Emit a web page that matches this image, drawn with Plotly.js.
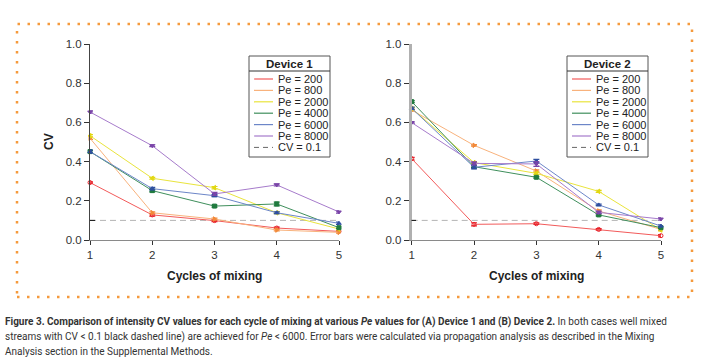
<!DOCTYPE html>
<html><head><meta charset="utf-8">
<script src="https://cdn.plot.ly/plotly-3.0.1.min.js"></script>
<style>html,body{margin:0;padding:0;background:#fff}#chart{width:709px;height:363px}</style>
</head><body><div id="chart"></div>
<script>
// ---- data ----
const cycles = [1, 2, 3, 4, 5];
const seriesNames = ['Pe = 200', 'Pe = 800', 'Pe = 2000', 'Pe = 4000', 'Pe = 6000', 'Pe = 8000'];
const thresholdName = 'CV = 0.1';
const threshold = 0.1;
const yTicks = [0, 0.2, 0.4, 0.6, 0.8, 1.0];

// Device 1 CV values
const dev1Pe200  = [0.293, 0.128, 0.099, 0.061, 0.044];
const dev1Pe800  = [0.519, 0.139, 0.107, 0.051, 0.039];
const dev1Pe2000 = [0.532, 0.315, 0.267, 0.139, 0.056];
const dev1Pe4000 = [0.451, 0.252, 0.173, 0.184, 0.063];
const dev1Pe6000 = [0.451, 0.262, 0.226, 0.139, 0.085];
const dev1Pe8000 = [0.653, 0.481, 0.235, 0.281, 0.143];
// Device 1 error bars
const dev1Err200  = [0.004, 0.006, 0.005, 0.005, 0.004];
const dev1Err800  = [0.006, 0.005, 0.005, 0.004, 0.004];
const dev1Err2000 = [0.006, 0.005, 0.006, 0.004, 0.005];
const dev1Err4000 = [0.006, 0.006, 0.005, 0.010, 0.005];
const dev1Err6000 = [0.008, 0.006, 0.005, 0.005, 0.006];
const dev1Err8000 = [0.006, 0.005, 0.008, 0.005, 0.006];

// Device 2 CV values
const dev2Pe200  = [0.415, 0.080, 0.083, 0.054, 0.022];
const dev2Pe800  = [0.663, 0.483, 0.352, 0.148, 0.054];
const dev2Pe2000 = [0.672, 0.395, 0.340, 0.248, 0.051];
const dev2Pe4000 = [0.706, 0.374, 0.320, 0.128, 0.063];
const dev2Pe6000 = [0.672, 0.371, 0.403, 0.179, 0.071];
const dev2Pe8000 = [0.599, 0.391, 0.388, 0.141, 0.107];
// Device 2 error bars
const dev2Err200  = [0.007, 0.008, 0.004, 0.004, 0.006];
const dev2Err800  = [0.005, 0.004, 0.006, 0.006, 0.005];
const dev2Err2000 = [0.005, 0.005, 0.006, 0.005, 0.005];
const dev2Err4000 = [0.005, 0.005, 0.004, 0.005, 0.004];
const dev2Err6000 = [0.006, 0.008, 0.008, 0.004, 0.006];
const dev2Err8000 = [0.004, 0.008, 0.012, 0.006, 0.006];

const deviceTitles = ['Device 1', 'Device 2'];
const xTitle = 'Cycles of mixing';
const yTitle = 'CV';
const captionLines = [
  '<b>Figure 3. Comparison of intensity CV values for each cycle of mixing at various <i>Pe</i> values for (A) Device 1 and (B) Device 2.</b> In both cases well mixed',
  'streams with CV &lt; 0.1 black dashed line) are achieved for <i>Pe</i> &lt; 6000. Error bars were calculated via propagation analysis as described in the Mixing',
  'Analysis section in the Supplemental Methods.'
];

// ---- styles ----
const lineColors   = ['#f25a5a', '#f8b27c', '#e9e43c', '#3f8f5c', '#6c86c8', '#a67bcb'];
const markerColors = ['#e8232b', '#f28a3a', '#e2d813', '#1f7a3e', '#2f4fa0', '#7a45a8'];
const symbols = ['circle-open', 'triangle-right', 'triangle-left', 'square', 'triangle-up', 'triangle-down'];

const W = 709, H = 363;
const px = x => x / W, py = y => 1 - y / H;

const dev1 = [dev1Pe200, dev1Pe800, dev1Pe2000, dev1Pe4000, dev1Pe6000, dev1Pe8000];
const dev1E = [dev1Err200, dev1Err800, dev1Err2000, dev1Err4000, dev1Err6000, dev1Err8000];
const dev2 = [dev2Pe200, dev2Pe800, dev2Pe2000, dev2Pe4000, dev2Pe6000, dev2Pe8000];
const dev2E = [dev2Err200, dev2Err800, dev2Err2000, dev2Err4000, dev2Err6000, dev2Err8000];

const traces = [];
[[dev1, dev1E, 'x', 'y'], [dev2, dev2E, 'x2', 'y2']].forEach(([vals, errs, xa, ya]) => {
  traces.push({
    x: [cycles[0], cycles[cycles.length - 1]], y: [threshold, threshold],
    xaxis: xa, yaxis: ya, mode: 'lines', name: thresholdName, showlegend: false,
    line: {color: '#b5b5b5', width: 1, dash: '6px,4px'}, hoverinfo: 'skip'
  });
  vals.forEach((v, i) => {
    traces.push({
      x: cycles, y: v, xaxis: xa, yaxis: ya, type: 'scatter', mode: 'lines+markers',
      name: seriesNames[i], showlegend: false, cliponaxis: false,
      line: {color: lineColors[i], width: 1},
      marker: {symbol: symbols[i], size: 4, color: markerColors[i], line: {color: markerColors[i], width: 1}},
      error_y: {type: 'data', array: errs[i], visible: true, color: markerColors[i], thickness: 1.2, width: 3}
    });
  });
});

// ---- manual legends ----
const shapes = [];
const annotations = [];
const legFont = {family: 'Liberation Sans, Arial, sans-serif', size: 11, color: '#222'};
const legBoxes = [{x0: 249, x1: 330, lx0: 254, lx1: 273, tx: 277}, {x0: 567, x1: 648, lx0: 572, lx1: 591, tx: 595}];
const legTop = 56, legBottom = 157, sepY = 71, itemY0 = 79, itemStep = 11.4;
const legMarkX = [], legMarkY = [], legMarkSym = [], legMarkCol = [];
legBoxes.forEach((b, d) => {
  shapes.push({type: 'rect', xref: 'paper', yref: 'paper', x0: px(b.x0), x1: px(b.x1), y0: py(legBottom), y1: py(legTop),
    line: {color: '#555', width: 1}, fillcolor: 'rgba(255,255,255,1)', layer: 'above'});
  shapes.push({type: 'line', xref: 'paper', yref: 'paper', x0: px(b.x0), x1: px(b.x1), y0: py(sepY), y1: py(sepY),
    line: {color: '#333', width: 1}, layer: 'above'});
  annotations.push({xref: 'paper', yref: 'paper', x: px((b.x0 + b.x1) / 2), y: py(64), text: '<b>' + deviceTitles[d] + '</b>',
    showarrow: false, xanchor: 'center', yanchor: 'middle', font: {family: 'Liberation Sans, Arial, sans-serif', size: 11.5, color: '#222'}});
  const names = seriesNames.concat([thresholdName]);
  names.forEach((n, i) => {
    const yy = itemY0 + i * itemStep;
    const isThr = i === names.length - 1;
    shapes.push({type: 'line', xref: 'paper', yref: 'paper', x0: px(b.lx0), x1: px(b.lx1), y0: py(yy), y1: py(yy),
      line: {color: isThr ? '#666' : lineColors[i], width: isThr ? 1 : 1.2, dash: isThr ? '5px,4px' : 'solid'}, layer: 'above'});
    annotations.push({xref: 'paper', yref: 'paper', x: px(b.tx), y: py(yy), text: n, showarrow: false,
      xanchor: 'left', yanchor: 'middle', font: legFont, borderpad: 0});
    if (!isThr) {
      legMarkX.push((b.lx0 + b.lx1) / 2); legMarkY.push(yy); legMarkSym.push(symbols[i]); legMarkCol.push(markerColors[i]);
    }
  });
});
traces.push({x: legMarkX, y: legMarkY, xaxis: 'x3', yaxis: 'y3', mode: 'markers', showlegend: false, hoverinfo: 'skip',
  marker: {symbol: legMarkSym, size: 4, color: legMarkCol, line: {color: legMarkCol, width: 1}}, cliponaxis: false});

// dotted orange frame
shapes.push({type: 'rect', xref: 'paper', yref: 'paper', x0: px(17), x1: px(692), y0: py(297), y1: py(24),
  line: {color: '#f59a3c', width: 2.5, dash: '2.5px,7.5px'}, layer: 'below'});
// small black tick at threshold on y axes
[[90, 95], [411.5, 416]].forEach(([a, b2]) => {
  shapes.push({type: 'line', xref: 'paper', yref: 'paper', x0: px(a), x1: px(b2), y0: py(240 - 0.1 * 196), y1: py(240 - 0.1 * 196),
    line: {color: '#111', width: 1}});
});

// axis titles
annotations.push({xref: 'paper', yref: 'paper', x: px(49), y: py(142), text: '<b>' + yTitle + '</b>', textangle: -90, showarrow: false,
  xanchor: 'center', yanchor: 'middle', font: {family: 'Liberation Sans, Arial, sans-serif', size: 12, color: '#222'}});
[214.5, 536].forEach(cx => annotations.push({xref: 'paper', yref: 'paper', x: px(cx), y: py(276), text: '<b>' + xTitle + '</b>', showarrow: false,
  xanchor: 'center', yanchor: 'middle', font: {family: 'Liberation Sans, Arial, sans-serif', size: 12, color: '#222'}}));
// caption
[322, 337, 351].forEach((cy, i) => annotations.push({xref: 'paper', yref: 'paper', x: px(4), y: py(cy), text: captionLines[i],
  showarrow: false, align: 'left', xanchor: 'left', yanchor: 'middle', borderpad: 0,
  font: {family: 'Roboto, sans-serif', size: 10, color: '#333'}}));

const tickFont = {family: 'Liberation Sans, Arial, sans-serif', size: 11.5, color: '#333'};
const xBase = {range: [1, 5], tickvals: cycles, ticktext: cycles.map(String), showgrid: false, zeroline: false, showline: true,
  linecolor: '#8a8a8a', linewidth: 1, ticks: 'outside', ticklen: 4, tickcolor: '#333', tickfont: tickFont, fixedrange: true};
const yBase = {range: [0, 1], tickvals: yTicks, tickformat: '.1f', showgrid: false, zeroline: false, showline: true,
  linecolor: '#444', linewidth: 1, ticks: 'outside', ticklen: 5, tickcolor: '#333', tickfont: tickFont, fixedrange: true};

const layout = {
  width: W, height: H, margin: {l: 0, r: 0, t: 0, b: 0}, paper_bgcolor: '#fff', plot_bgcolor: 'rgba(0,0,0,0)',
  showlegend: false,
  xaxis: Object.assign({}, xBase, {domain: [px(90), px(339)], anchor: 'y'}),
  yaxis: Object.assign({}, yBase, {domain: [py(240), py(44)], anchor: 'x'}),
  xaxis2: Object.assign({}, xBase, {domain: [px(411.7), px(661)], anchor: 'y2'}),
  yaxis2: Object.assign({}, yBase, {domain: [py(240), py(44)], anchor: 'x2', linecolor: '#b0b0b0', linewidth: 3}),
  xaxis3: {domain: [0, 1], range: [0, W], visible: false, anchor: 'y3', fixedrange: true},
  yaxis3: {domain: [0, 1], range: [H, 0], visible: false, anchor: 'x3', fixedrange: true},
  shapes: shapes, annotations: annotations
};
Plotly.newPlot('chart', traces, layout, {displayModeBar: false, staticPlot: true});
</script></body></html>
